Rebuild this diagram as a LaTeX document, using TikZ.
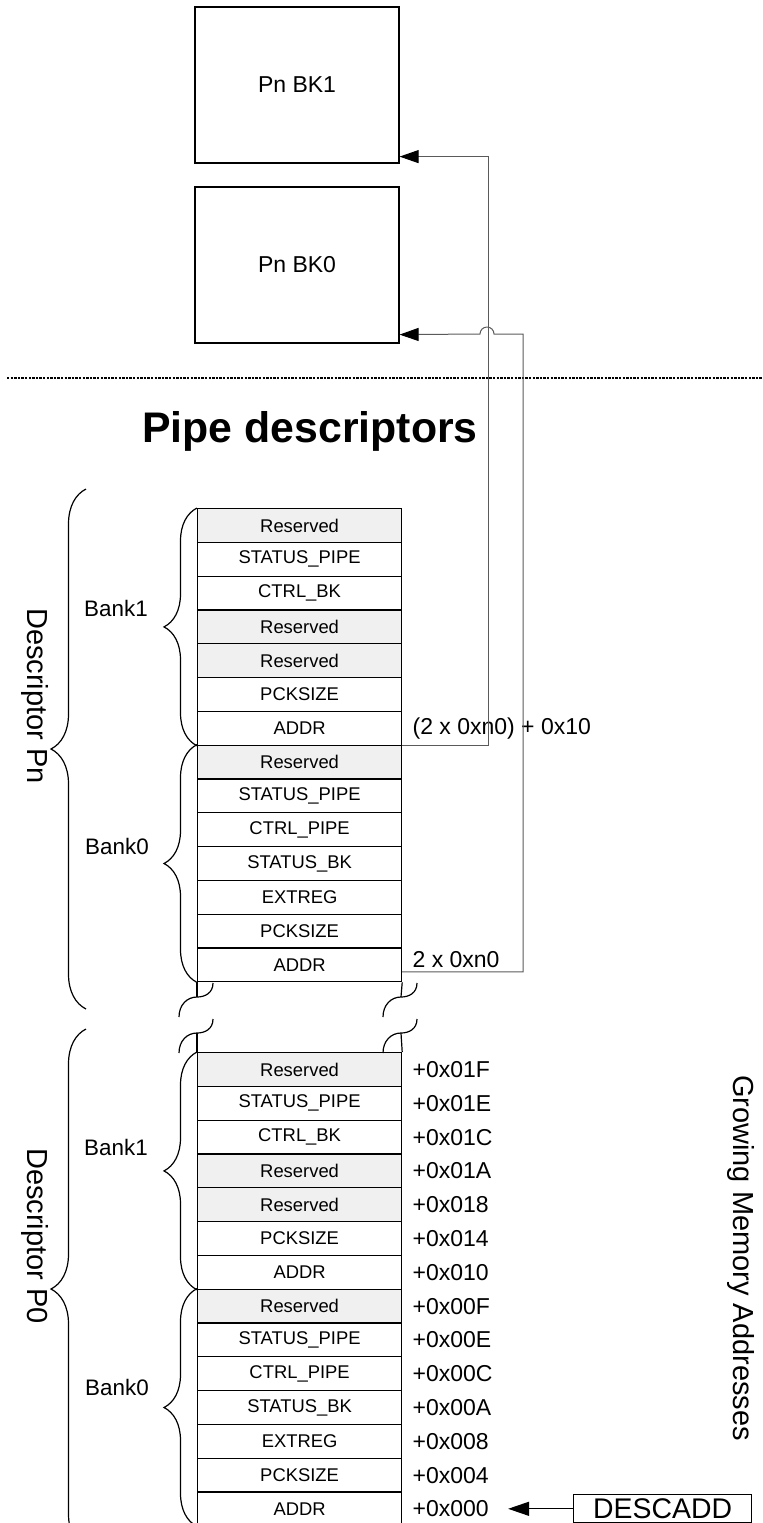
\documentclass[tikz,border=0pt]{standalone}
\usepackage{fontspec}
\setmainfont{Liberation Sans}
\usetikzlibrary{arrows.meta,decorations.pathreplacing}
\definecolor{resgray}{HTML}{F0F0F0}
\definecolor{linkgray}{HTML}{5A5A5A}
\tikzset{
  regbox/.style={
    shape = rectangle,
    draw,
    line width = 0.6pt,
    minimum width = 102pt,
    minimum height = 16.9pt,
    inner sep = 0pt,
    anchor = north west,
    font = \fontsize{9.2}{11}\selectfont
  },
  resbox/.style={
    regbox,
    fill = resgray
  },
}
\tikzset{
  bkbox/.style={
    shape = rectangle,
    draw,
    line width = 0.6pt,
    minimum width = 102pt,
    minimum height = 78pt,
    font = \fontsize{11.5}{13}\selectfont
  },
  adr/.style={
    anchor = west,
    inner sep = 2pt,
    font = \fontsize{11.5}{13}\selectfont
  },
  banklbl/.style={
    font = \fontsize{11.2}{13}\selectfont
  },
  desclbl/.style={
    rotate = -90,
    font = \fontsize{14.5}{16}\selectfont
  },
  bankbrace/.style={
    decorate,
    decoration = {brace, amplitude=16.5pt},
    line width = 0.6pt
  },
  descbrace/.style={
    decorate,
    decoration = {brace, amplitude=17.5pt},
    line width = 0.6pt
  },
  link/.style={
    draw = linkgray,
    line width = 0.5pt,
    -{Triangle[length=9.5pt, width=6.5pt, color=black]}
  }
}
\begin{document}
\begin{tikzpicture}[x=0.5pt, y=-0.5pt]
        \useasboundingbox (0,0) rectangle (762,1523);
        \clip (0,0) rectangle (762,1523);
        % banks in RAM
        \node[bkbox] (bk1) at (297,85) {Pn BK1};
        \node[bkbox] (bk0) at (297,265) {Pn BK0};
        \draw[line width=0.9pt, dash pattern=on 1.2pt off 0.6pt] (7,378) -- (762,378);
        \node[font=\bfseries\fontsize{21.4}{24}\selectfont, anchor=base] (title) at (310,442) {Pipe descriptors};
        % descriptor Pn and descriptor P0
        \foreach \sty/\lab [count=\i] in {resbox/Reserved, regbox/STATUS\_PIPE, regbox/CTRL\_BK, resbox/Reserved, resbox/Reserved, regbox/PCKSIZE, regbox/ADDR, resbox/Reserved, regbox/STATUS\_PIPE, regbox/CTRL\_PIPE, regbox/STATUS\_BK, regbox/EXTREG, regbox/PCKSIZE, regbox/ADDR}
        {
            \node[\sty] (pn\i) at (197,{508+(\i-1)*33.8}) {\lab};
            \node[\sty] (pz\i) at (197,{1052+(\i-1)*33.8}) {\lab};
        }
        % break between the descriptors
        \draw[line width=0.6pt] (pn14.south west) -- (197,997);
        \draw[line width=0.6pt] (pn14.south east) -- (401,997);
        \draw[line width=0.6pt] (197,1033) -- (pz1.north west);
        \draw[line width=0.6pt] (401,1033) -- (pz1.north east);
        \foreach \bx/\by in {197/997, 197/1033, 401/997, 401/1033}
            \draw[line width=0.6pt] (\bx+16,\by-14) .. controls (\bx+16,\by-4) and (\bx+8,\by) .. (\bx,\by) .. controls (\bx-10,\by) and (\bx-18,\by+8) .. (\bx-18,\by+20);
        % braces
        \draw[bankbrace] (pn7.south west) -- (pn1.north west);
        \draw[bankbrace] (pn14.south west) -- (pn8.north west);
        \draw[bankbrace] (pz7.south west) -- (pz1.north west);
        \draw[bankbrace] (pz14.south west) -- (pz8.north west);
        \draw[descbrace] (86,1009) -- (86,489);
        \draw[descbrace] (86,1549) -- (86,1029);
        \node[banklbl] (bnk1n) at (116,608) {Bank1};
        \node[banklbl] (bnk0n) at (117,846) {Bank0};
        \node[banklbl] (bnk1z) at (116,1147) {Bank1};
        \node[banklbl] (bnk0z) at (117,1387) {Bank0};
        \node[desclbl] (descn) at (35,696) {Descriptor Pn};
        \node[desclbl] (descz) at (35,1236) {Descriptor P0};
        \node[desclbl] (grow) at (741,1258) {Growing Memory Addresses};
        % offsets
        \foreach \off [count=\i] in {+0x01F,+0x01E,+0x01C,+0x01A,+0x018,+0x014,+0x010,+0x00F,+0x00E,+0x00C,+0x00A,+0x008,+0x004,+0x000}
            \node[adr] (a\i) at ([xshift=3pt]pz\i.east) {\off};
        \node[adr] (offs1) at ([xshift=3pt]pn7.east) {(2 x 0xn0) + 0x10};
        \node[adr, anchor=south west] (offs0) at ([xshift=3pt, yshift=-3.5pt]pn14.east) {2 x 0xn0};
        % pointers to the banks
        \draw[link] (pn7.south east) -- ++(86,0) |- ([yshift=3.5pt]bk1.south east);
        \draw[link] ([yshift=-3.5pt]pn14.east) -- ++(121,0) |- (494,334) arc[start angle=0, end angle=180, radius=3.5pt] -- ([yshift=4.5pt]bk0.south east);
        \node[draw, line width=0.6pt, minimum width=89pt, minimum height=14.2pt, inner sep=1pt, anchor=north west, font=\fontsize{14.2}{16}\selectfont] (descadd) at (573,1494) {DESCADD};
        \draw[line width=0.6pt, shorten >=7.5pt, -{Triangle[length=10.5pt, width=7pt]}] (descadd.west) -- (descadd.west -| a14.east);
\end{tikzpicture}
\end{document}
